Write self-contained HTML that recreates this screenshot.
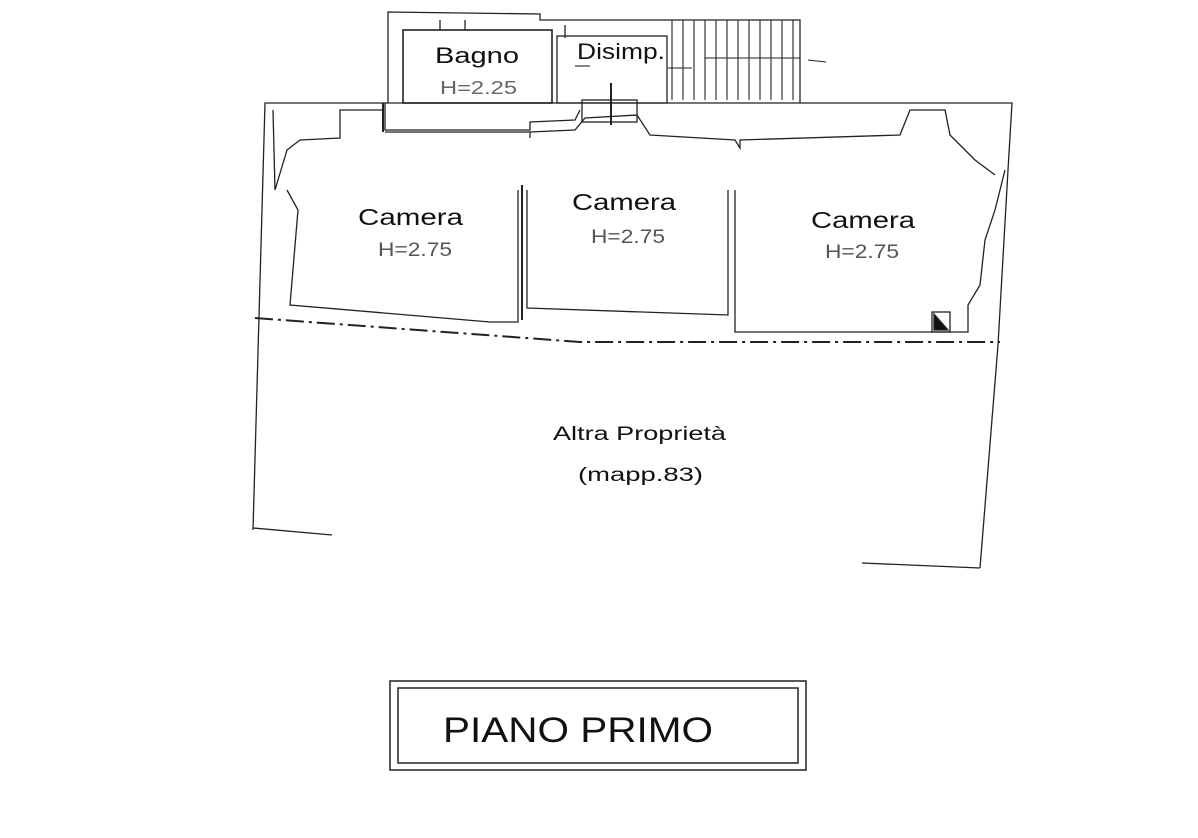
<!DOCTYPE html>
<html><head><meta charset="utf-8"><style>
html,body{margin:0;padding:0;background:#fff}
svg{display:block}
text{font-family:"Liberation Sans",sans-serif}
</style></head><body>
<svg width="1198" height="838" viewBox="0 0 1198 838" xmlns="http://www.w3.org/2000/svg">
<g fill="none" stroke="#222" stroke-width="1.3">
<polyline points="388,103 388,12 540,14 540,20 800,20 800,103"/>
<polyline points="385,103 385,130 530,130 530,122 575,120 580,110"/>
<line x1="440" y1="20" x2="440" y2="30"/><line x1="465" y1="20" x2="465" y2="30"/>
<line x1="565" y1="25" x2="565" y2="38"/>
<rect x="403" y="30" width="149" height="73" stroke-width="1.6"/>
<rect x="557" y="36" width="110" height="67"/>
<g stroke-width="1.1">
<line x1="672" y1="20" x2="672" y2="100"/><line x1="683" y1="20" x2="683" y2="100"/>
<line x1="694" y1="20" x2="694" y2="100"/><line x1="705" y1="20" x2="705" y2="100"/>
<line x1="716" y1="20" x2="716" y2="100"/><line x1="727" y1="20" x2="727" y2="100"/>
<line x1="738" y1="20" x2="738" y2="100"/><line x1="749" y1="20" x2="749" y2="100"/>
<line x1="760" y1="20" x2="760" y2="100"/><line x1="771" y1="20" x2="771" y2="100"/>
<line x1="782" y1="20" x2="782" y2="100"/><line x1="793" y1="20" x2="793" y2="100"/>
<line x1="705" y1="58" x2="800" y2="58"/>
<line x1="668" y1="68" x2="692" y2="68"/>
<line x1="808" y1="60" x2="826" y2="62"/>
<line x1="575" y1="66" x2="590" y2="66"/>
</g>
<line x1="611" y1="83" x2="611" y2="125" stroke-width="2"/>
<rect x="582" y="100" width="55" height="22"/>
<polyline points="253,530 265,103 1012,103 1008,170 998,345 980,568"/>
<line x1="253" y1="528" x2="332" y2="535"/>
<line x1="862" y1="563" x2="980" y2="568"/>
<line x1="383" y1="103" x2="383" y2="132" stroke-width="2"/>
<polyline points="273,110 275,190 287,150 300,140 340,138 340,110 383,110"/>
<polyline points="385,132 530,132 530,138 530,132 575,130 585,118 637,115 650,135 735,140 740,148 740,140 900,135 910,110 945,110 950,135 975,160 995,175"/>
<polyline points="287,190 298,210 290,305 490,322 518,322 518,190"/>
<line x1="522" y1="185" x2="522" y2="320" stroke-width="2"/>
<polyline points="527,190 527,308 728,315 728,190"/>
<polyline points="735,190 735,332 968,332 968,305 980,285 985,240 995,210 1005,170"/>
<rect x="932" y="312" width="18" height="20"/>
<polygon points="934,314 948,330 934,330" fill="#111"/>
<polyline points="255,318 580,342 1000,342" stroke-dasharray="18,5,3,5" stroke-width="2"/>
<rect x="390" y="681" width="416" height="89" stroke-width="1.5"/>
<rect x="398" y="688" width="400" height="75" stroke-width="1.5"/>
</g>
<g fill="#111" lengthAdjust="spacingAndGlyphs">
<text x="435" y="63" font-size="22" textLength="84" lengthAdjust="spacingAndGlyphs">Bagno</text>
<text x="440" y="94" font-size="18" fill="#666" textLength="77" lengthAdjust="spacingAndGlyphs">H=2.25</text>
<text x="577" y="59" font-size="22" textLength="88" lengthAdjust="spacingAndGlyphs">Disimp.</text>
<text x="358" y="225" font-size="23" textLength="105" lengthAdjust="spacingAndGlyphs">Camera</text>
<text x="378" y="256" font-size="19" fill="#555" textLength="74" lengthAdjust="spacingAndGlyphs">H=2.75</text>
<text x="572" y="210" font-size="23" textLength="104" lengthAdjust="spacingAndGlyphs">Camera</text>
<text x="591" y="243" font-size="19" fill="#555" textLength="74" lengthAdjust="spacingAndGlyphs">H=2.75</text>
<text x="811" y="228" font-size="23" textLength="104" lengthAdjust="spacingAndGlyphs">Camera</text>
<text x="825" y="258" font-size="19" fill="#555" textLength="74" lengthAdjust="spacingAndGlyphs">H=2.75</text>
<text x="553" y="440" font-size="19" textLength="173" lengthAdjust="spacingAndGlyphs">Altra Proprietà</text>
<text x="578" y="481" font-size="19" textLength="125" lengthAdjust="spacingAndGlyphs">(mapp.83)</text>
<text x="443" y="742" font-size="35" textLength="270" lengthAdjust="spacingAndGlyphs">PIANO PRIMO</text>
</g>
</svg>
</body></html>
